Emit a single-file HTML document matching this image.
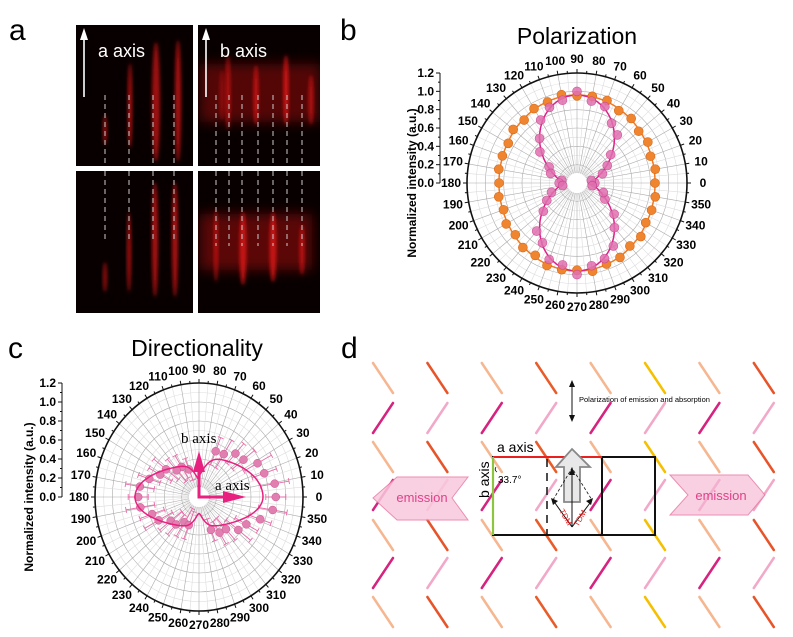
<!DOCTYPE html>
<html><head><meta charset="utf-8"><style>
html,body{margin:0;padding:0;background:#fff}
svg{display:block;font-family:"Liberation Sans",sans-serif}
</style></head><body>
<svg id="s" width="793" height="637" viewBox="0 0 793 637" xmlns="http://www.w3.org/2000/svg">
<defs>
<filter id="bl" x="-50%" y="-50%" width="200%" height="200%"><feGaussianBlur stdDeviation="1.8"/></filter>
<filter id="bl2" x="-50%" y="-50%" width="200%" height="200%"><feGaussianBlur stdDeviation="6"/></filter>
<clipPath id="c1"><rect x="76" y="25" width="117" height="141"/></clipPath>
<clipPath id="c2"><rect x="198" y="25" width="122" height="141"/></clipPath>
<clipPath id="c3"><rect x="76" y="171" width="117" height="142"/></clipPath>
<clipPath id="c4"><rect x="198" y="171" width="122" height="142"/></clipPath>
</defs>
<text x="9" y="40" font-size="30">a</text>
<text x="340" y="40" font-size="30">b</text>
<text x="8" y="358" font-size="30">c</text>
<text x="341" y="358" font-size="30">d</text>
<rect x="76" y="25" width="117" height="141" fill="#080000"/>
<rect x="198" y="25" width="122" height="141" fill="#080000"/>
<rect x="76" y="171" width="117" height="142" fill="#080000"/>
<rect x="198" y="171" width="122" height="142" fill="#080000"/>
<g id="ga"></g>
<text x="577" y="44" font-size="23" text-anchor="middle">Polarization</text>
<text x="197" y="356" font-size="23" text-anchor="middle">Directionality</text>
<g id="gb"></g><g id="gc"></g><g id="gd"></g>
</svg>
<script>
const NS="http://www.w3.org/2000/svg";
function el(p,t,a,txt){const e=document.createElementNS(NS,t);for(const k in a)e.setAttribute(k,a[k]);if(txt!==undefined)e.textContent=txt;p.appendChild(e);return e;}
const rad=d=>d*Math.PI/180;
const ga=document.getElementById('ga');
function streak(g,x,y1,y2,w,op,clip){el(g,'ellipse',{cx:x,cy:(y1+y2)/2,rx:w,ry:(y2-y1)/2,fill:'#d01818',opacity:op,filter:'url(#bl)','clip-path':clip});}
[[105,115,145,2,.7],[130,63,148,2.2,.8],[156,42,162,4,.75],[178,40,162,3,.8]].forEach(s=>streak(ga,...s,'url(#c1)'));
[[105,262,292,2,.7],[129,212,292,2,.8],[155,182,297,3,.8],[175,182,297,3,.8]].forEach(s=>streak(ga,...s,'url(#c3)'));
el(ga,'rect',{x:200,y:64,width:120,height:58,fill:'#a01010',opacity:.5,filter:'url(#bl2)','clip-path':'url(#c2)'});
[[228,55,130,2.5,.7],[256,65,125,2.5,.85],[286,55,125,2.5,1],[311,75,125,2.5,.75],[222,70,120,2.5,.45]].forEach(s=>streak(ga,...s,'url(#c2)'));
el(ga,'rect',{x:200,y:214,width:112,height:56,fill:'#a01010',opacity:.55,filter:'url(#bl2)','clip-path':'url(#c4)'});
[[216,210,282,2,.8],[243,212,285,3.5,.9],[273,212,282,3.5,.9],[302,225,275,2.5,.8]].forEach(s=>streak(ga,...s,'url(#c4)'));
[105,129,153,174].forEach(x=>{el(ga,'line',{x1:x,y1:95,x2:x,y2:166,stroke:'#ccc','stroke-width':1,'stroke-dasharray':'5 4'});el(ga,'line',{x1:x,y1:171,x2:x,y2:242,stroke:'#ccc','stroke-width':1,'stroke-dasharray':'5 4'});});
[216,229,242,258,273,287,302].forEach(x=>{el(ga,'line',{x1:x,y1:95,x2:x,y2:166,stroke:'#ccc','stroke-width':1,'stroke-dasharray':'5 4'});el(ga,'line',{x1:x,y1:171,x2:x,y2:246,stroke:'#ccc','stroke-width':1,'stroke-dasharray':'5 4'});});
[[84,'a axis'],[206,'b axis']].forEach(([x,t])=>{el(ga,'line',{x1:x,y1:97,x2:x,y2:38,stroke:'#fff','stroke-width':1.6});el(ga,'polygon',{points:`${x-4},40 ${x+4},40 ${x},28`,fill:'#fff'});el(ga,'text',{x:x+14,y:57,'font-size':18,fill:'#fff'},t);});
function polar(g,cx,cy,rx,ry,axX,lblX){
  const sx=rx/1.2, sy=ry/1.2;
  for(let i=1;i<12;i++){const v=i/10;el(g,'ellipse',{cx,cy,rx:v*sx,ry:v*sy,fill:'none',stroke:i%2==0?'#aaa':'#ddd','stroke-width':0.6});}
  for(let a=0;a<360;a+=5){const c=Math.cos(rad(a)),s=Math.sin(rad(a));el(g,'line',{x1:cx+10*c,y1:cy-10*s,x2:cx+rx*c,y2:cy-ry*s,stroke:a%10==0?'#aaa':'#ddd','stroke-width':0.6});}
  el(g,'ellipse',{cx,cy,rx:10,ry:10,fill:'#fff'});
  el(g,'ellipse',{cx,cy,rx,ry,fill:'none',stroke:'#111','stroke-width':1.6});
  for(let a=0;a<360;a+=5){const c=Math.cos(rad(a)),s=Math.sin(rad(a)),L=a%10==0?4:2.5;el(g,'line',{x1:cx+rx*c,y1:cy-ry*s,x2:cx+(rx+L)*c,y2:cy-(ry+L)*s,stroke:'#111','stroke-width':1});}
  for(let a=0;a<360;a+=10){const c=Math.cos(rad(a)),s=Math.sin(rad(a));el(g,'text',{x:cx+(rx+16)*c,y:cy-(ry+14)*s+4,'font-size':12,'font-weight':'bold','text-anchor':'middle'},String(a));}
  el(g,'line',{x1:axX,y1:cy-ry,x2:axX,y2:cy,stroke:'#111','stroke-width':1});
  for(let i=0;i<=12;i++){const y=cy-i*(ry/12);el(g,'line',{x1:axX-(i%2==0?4:2),y1:y,x2:axX,y2:y,stroke:'#111','stroke-width':1});if(i%2==0)el(g,'text',{x:axX-6,y:y+4,'font-size':12,'font-weight':'bold','text-anchor':'end'},(i/10).toFixed(1));}
  el(g,'text',{x:0,y:0,'font-size':12,'font-weight':'bold','text-anchor':'middle',transform:`translate(${lblX},${cy}) rotate(-90)`},'Normalized intensity (a.u.)');
}
function path(fn,cx,cy,ky){let d='';for(let a=0;a<=360;a+=2){const r=fn(a);const x=cx+r*Math.cos(rad(a)),y=cy-r*ky*Math.sin(rad(a));d+=(a?'L':'M')+x.toFixed(1)+' '+y.toFixed(1);}return d+'Z';}
const gb=document.getElementById('gb');
const bcx=577,bcy=183;
polar(gb,bcx,bcy,110,110,440,416);
const orf=a=>{const c=Math.cos(rad(a)),s=Math.sin(rad(a));return 1/Math.sqrt(c*c/(78*78)+s*s/(88*88));};
el(gb,'path',{d:path(orf,bcx,bcy,1),fill:'none',stroke:'#ef7a22','stroke-width':1.5});
const pkf=a=>16+72*Math.pow(Math.sin(rad(a)),2);
el(gb,'path',{d:path(pkf,bcx,bcy,1),fill:'none',stroke:'#e0208a','stroke-width':1.5});
const jit=[0,3,-2,4,-3,2,-4,3,1,-2,5,-1,2,-3,4,-2,1,3];
for(let a=0;a<360;a+=10){const j=jit[(a/10)%18];let r=orf(a)+j*0.4;el(gb,'circle',{cx:bcx+r*Math.cos(rad(a)),cy:bcy-r*Math.sin(rad(a)),r:4.5,fill:'#f08530',stroke:'#d86a1a','stroke-width':0.6});}
for(let a=0;a<360;a+=10){const j=jit[(a/10+5)%18];let r=pkf(a)+j*0.9;el(gb,'circle',{cx:bcx+r*Math.cos(rad(a)),cy:bcy-r*Math.sin(rad(a)),r:4.5,fill:'#e070b0',opacity:.85,stroke:'#c83a88','stroke-width':0.6});}
const gc=document.getElementById('gc');
const ccx=199,ccy=497;
polar(gc,ccx,ccy,104,114,62,33);
const cf=a=>{const c=Math.cos(rad(a)),s=Math.sin(rad(a));const right=c>0;const ry=right?(s>0?40:30):(s>0?32:30);const E=1/Math.sqrt(c*c/(64*64)+s*s/(ry*ry));
 let d=Math.min(Math.abs(((a-90)%360+360)%360>180?((a-90)%360+360)%360-360:((a-90)%360+360)%360),Math.abs(((a-270)%360+360)%360>180?((a-270)%360+360)%360-360:((a-270)%360+360)%360));
 return E*(1-0.45*Math.exp(-(d/14)*(d/14)));};
for(let a=0;a<360;a+=10){if(a>=80&&a<=100||a>=260&&a<=280)continue;const right=Math.cos(rad(a))>0;const j=jit[(a/10)%18];let r=cf(a)*(right?1.2:0.95)+j*0.6;const c=Math.cos(rad(a)),s=Math.sin(rad(a));const e=10+Math.abs(j)*1.5;
 const x1=ccx+(r-e)*c,y1=ccy-(r-e)*s,x2=ccx+(r+e)*c,y2=ccy-(r+e)*s;
 el(gc,'line',{x1,y1,x2,y2,stroke:'#e86aa8','stroke-width':0.9});
 [[x1,y1],[x2,y2]].forEach(([x,y])=>el(gc,'line',{x1:x-3*s,y1:y-3*c,x2:x+3*s,y2:y+3*c,stroke:'#e86aa8','stroke-width':0.9}));
 el(gc,'circle',{cx:ccx+r*c,cy:ccy-r*s,r:4,fill:'#e07fb0',stroke:'#d05090','stroke-width':0.5});}
el(gc,'path',{d:path(cf,ccx,ccy,1),fill:'none',stroke:'#e8207f','stroke-width':1.5});
el(gc,'line',{x1:ccx,y1:ccy,x2:ccx,y2:470,stroke:'#e8207f','stroke-width':3});
el(gc,'polygon',{points:`${ccx-6},472 ${ccx+6},472 ${ccx},451`,fill:'#e8207f'});
el(gc,'line',{x1:ccx-1.5,y1:ccy,x2:225,y2:ccy,stroke:'#e8207f','stroke-width':3});
el(gc,'polygon',{points:`223,491 223,503 246,497`,fill:'#e8207f'});
el(gc,'text',{x:181,y:443,'font-size':15,'font-family':'Liberation Serif'},'b axis');
el(gc,'text',{x:215,y:490,'font-size':15,'font-family':'Liberation Serif'},'a axis');
const gd=document.getElementById('gd');
const bs=['#f6b690','#e8542a','#f6b690','#e95c2a','#f6b690','#f5c000','#f6b690','#e8542a'];
const fs=['#d6237f','#f2a8c8','#d6237f','#f2a8c8','#d6237f','#f2a8c8','#d6237f','#f2a8c8'];
const bsRows=[363,442,520,597], fsRows=[403,480,558];
for(let i=0;i<8;i++){const x=373+54.4*i;
 bsRows.forEach(y=>el(gd,'line',{x1:x,y1:y,x2:x+20,y2:y+30,stroke:bs[i],'stroke-width':2.5,'stroke-linecap':'round'}));
 fsRows.forEach(y=>el(gd,'line',{x1:x,y1:y+30,x2:x+20,y2:y,stroke:fs[i],'stroke-width':2.5,'stroke-linecap':'round'}));}
el(gd,'polygon',{points:'373,498 397,477 468,477 452,498 468,520 397,520',fill:'#f8c8dc',opacity:.85,stroke:'#e87aa5','stroke-width':1});
el(gd,'text',{x:422,y:502,'font-size':13,fill:'#e0408a','text-anchor':'middle'},'emission');
el(gd,'polygon',{points:'670,475 748,475 765,495 748,515 670,515 688,495',fill:'#f8c8dc',opacity:.85,stroke:'#e87aa5','stroke-width':1});
el(gd,'text',{x:721,y:500,'font-size':13,fill:'#e0408a','text-anchor':'middle'},'emission');
el(gd,'rect',{x:493,y:457,width:162,height:78,fill:'none',stroke:'#111','stroke-width':2});
el(gd,'line',{x1:602,y1:457,x2:602,y2:535,stroke:'#111','stroke-width':2});
el(gd,'line',{x1:493,y1:457,x2:602,y2:457,stroke:'#e82020','stroke-width':2});
el(gd,'line',{x1:493,y1:457,x2:493,y2:535,stroke:'#8cc63e','stroke-width':2.2});
el(gd,'line',{x1:547,y1:459,x2:547,y2:535,stroke:'#111','stroke-width':1.5,'stroke-dasharray':'8 6'});
el(gd,'polygon',{points:'572,449 590,467 580,467 580,502 564,502 564,467 556,467',fill:'#e8e8e8',stroke:'#888','stroke-width':1.8});
el(gd,'line',{x1:572,y1:527,x2:572,y2:472,stroke:'#111','stroke-width':1});
el(gd,'polygon',{points:'569,475 575,475 572,467',fill:'#111'});
el(gd,'line',{x1:572,y1:527,x2:555,y2:503,stroke:'#111','stroke-width':1});
el(gd,'polygon',{points:'551,498 558,501 553,505',fill:'#111'});
el(gd,'line',{x1:572,y1:527,x2:590,y2:503,stroke:'#111','stroke-width':1});
el(gd,'polygon',{points:'593,498 591,505 586,501',fill:'#111'});
el(gd,'polyline',{points:'553,500 572,468 592,500',fill:'none',stroke:'#111','stroke-width':0.8,'stroke-dasharray':'3 2'});
el(gd,'text',{x:0,y:0,'font-size':8,fill:'#e82020',transform:'translate(559,511) rotate(60)'},'TDM');
el(gd,'text',{x:0,y:0,'font-size':8,fill:'#e82020',transform:'translate(578,527) rotate(-60)'},'TDM');
el(gd,'text',{x:497,y:452,'font-size':14},'a axis');
el(gd,'text',{x:0,y:0,'font-size':14,transform:'translate(489,498) rotate(-90)'},'b axis');
el(gd,'text',{x:498,y:483,'font-size':10},'33.7°');
el(gd,'path',{d:'M496,467 q-2,3 1,5',fill:'none',stroke:'#111','stroke-width':0.8});
el(gd,'line',{x1:572,y1:385,x2:572,y2:417,stroke:'#111','stroke-width':1});
el(gd,'polygon',{points:'569,387 575,387 572,380',fill:'#111'});
el(gd,'polygon',{points:'569,415 575,415 572,422',fill:'#111'});
el(gd,'text',{x:579,y:402,'font-size':7.5},'Polarization of emission and absorption');
</script>
</body></html>
